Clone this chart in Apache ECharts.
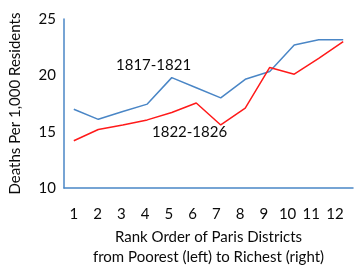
<!DOCTYPE html>
<html><head><meta charset="utf-8">
<script src="https://cdn.jsdelivr.net/npm/echarts@6/dist/echarts.min.js"></script>
<style>html,body{margin:0;padding:0;background:#fff}#c{width:364px;height:272px}</style>
</head><body><div id="c"></div>
<script>
var ranks = [1,2,3,4,5,6,7,8,9,10,11,12];
var deaths1817 = [17.0,16.1,16.8,17.45,19.8,18.9,18.0,19.65,20.35,22.7,23.15,23.15];
var deaths1822 = [14.2,15.2,15.6,16.05,16.7,17.55,15.6,17.1,20.7,20.1,21.5,23.0];
var yTicks = [10,15,20,25];
var seriesNames = ['1817-1821','1822-1826'];

var FONT = 'Lato, "Open Sans", sans-serif';
var BLUE = '#4a86c6', RED = '#ff1a1a', TXT = '#0a0a0a';
function pairs(vals){ return ranks.map(function(r,i){ return [r, vals[i]]; }); }

var chart = echarts.init(document.getElementById('c'));
chart.setOption({
  animation:false,
  grid:{left:63,right:11,top:19,bottom:82},
  xAxis:[{
    type:'value', min:0.6, max:12.4,
    axisLine:{show:true,lineStyle:{color:BLUE,width:1.5}},
    axisTick:{show:false}, axisLabel:{show:false}, splitLine:{show:false}
  },{
    type:'value', position:'bottom', min:0.58, max:12.756,
    axisLine:{show:false}, axisTick:{show:false}, splitLine:{show:false},
    axisLabel:{
      customValues:ranks,
      color:TXT, fontFamily:FONT, fontSize:15, margin:19
    },
    name:'Rank Order of Paris Districts\nfrom Poorest (left) to Richest (right)',
    nameLocation:'middle', nameGap:31,
    nameTextStyle:{color:TXT,fontFamily:FONT,fontSize:15,lineHeight:20,verticalAlign:'top'}
  }],
  yAxis:{
    type:'value', min:10, max:25, interval:5,
    axisLine:{show:true,lineStyle:{color:BLUE,width:1.5}},
    axisTick:{show:false}, splitLine:{show:false},
    axisLabel:{color:TXT,fontFamily:FONT,fontSize:15,margin:8,
      formatter:function(v){ return yTicks.indexOf(v)>=0 ? String(v) : ''; }},
    name:'Deaths Per 1,000 Residents', nameLocation:'middle', nameGap:41,
    nameTextStyle:{color:TXT,fontFamily:FONT,fontSize:15}
  },
  series:[{
    name:seriesNames[0], type:'line', xAxisIndex:0, data:pairs(deaths1817),
    symbol:'none', lineStyle:{color:BLUE,width:1.5}
  },{
    name:seriesNames[1], type:'line', xAxisIndex:0, data:pairs(deaths1822),
    symbol:'none', lineStyle:{color:RED,width:1.5}
  }],
  graphic:[
    {type:'text', left:116, top:58, style:{text:seriesNames[0],fill:TXT,font:'15px '+FONT}},
    {type:'text', left:152, top:125, style:{text:seriesNames[1],fill:TXT,font:'15px '+FONT}}
  ]
});
</script></body></html>
